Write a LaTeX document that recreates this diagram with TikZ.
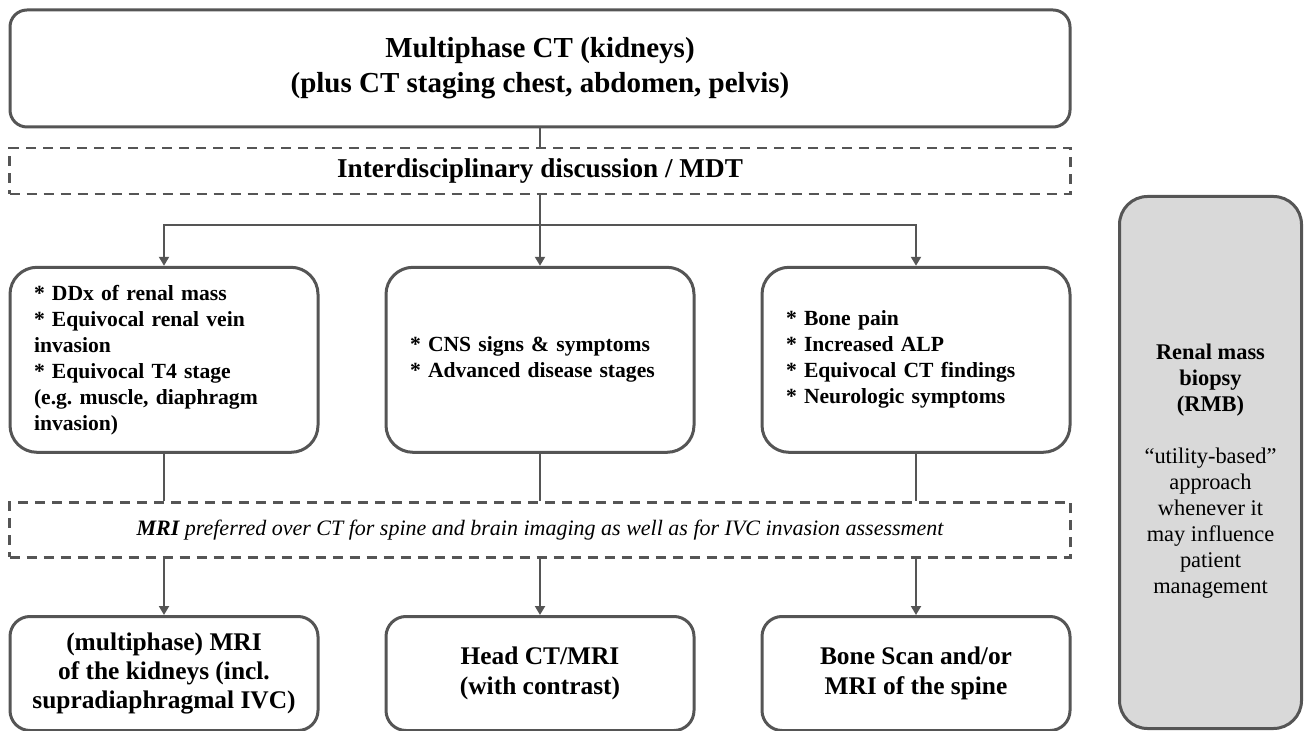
\documentclass[tikz,border=0pt]{standalone}
\usepackage{fontspec}
\setmainfont{Liberation Serif}
\usetikzlibrary{arrows.meta,positioning,calc}
\definecolor{edgegray}{HTML}{555555}
\definecolor{rmbgray}{HTML}{D9D9D9}

\begin{document}
\begin{tikzpicture}[
  node distance=28.15pt and 32.5pt,
  bigbox/.style={draw=edgegray, line width=1.5pt, rounded corners=8.5pt, align=center, minimum width=530pt, minimum height=58.5pt, font=\fontsize{14.5}{17.5}\selectfont\bfseries},
  note/.style={draw=edgegray, line width=1.3pt, dash pattern=on 5pt off 3.5pt, align=center, minimum width=530.5pt},
  crit/.style={draw=edgegray, line width=1.5pt, rounded corners=13.5pt, align=left, text width=130pt, inner xsep=12pt, minimum height=92.5pt, font=\fontsize{10.8}{13}\selectfont\bfseries},
  exam/.style={draw=edgegray, line width=1.5pt, rounded corners=10pt, align=center, minimum width=154pt, minimum height=57pt, font=\fontsize{12.7}{14.7}\selectfont\bfseries},
  biopsy/.style={draw=edgegray, fill=rmbgray, line width=1.5pt, rounded corners=14pt, align=center, minimum width=91pt, minimum height=266pt, font=\fontsize{11.2}{13}\selectfont},
  link/.style={draw=edgegray, line width=1pt},
  arr/.style={link, -{Triangle[length=4.5pt, width=5pt]}}
]
\useasboundingbox (0,0) rectangle (652pt,-365.5pt);
\node[bigbox] (ct) at (270pt,-34.25pt) {Multiphase CT (kidneys)\\(plus CT staging chest, abdomen, pelvis)};
\node[note, below=9.2pt of ct, minimum height=23pt, font=\fontsize{13.6}{16}\selectfont\bfseries] (mdt) {Interdisciplinary discussion / MDT};
\node[crit, below=35.15pt of mdt] (cns) {* CNS signs \& symptoms\\{}* Advanced disease stages};
\node[crit, left=of cns] (ddx) {* DDx of renal mass\\{}* Equivocal renal vein\\invasion\\{}* Equivocal T4 stage\\(e.g.\ muscle, diaphragm\\invasion)};
\node[crit, right=of cns] (bone) {* Bone pain\\{}* Increased ALP\\{}* Equivocal CT findings\\{}* Neurologic symptoms};
\node[note, below=23.65pt of cns, minimum height=27.5pt, font=\fontsize{11}{13}\selectfont\itshape] (mri) {\textbf{MRI} preferred over CT for spine and brain imaging as well as for IVC invasion assessment};
\node[exam, below=of mri] (head) {Head CT/MRI\\(with contrast)};
\node[exam, left=of head] (kid) {(multiphase) MRI\\of the kidneys (incl.\\supradiaphragmal IVC)};
\node[exam, right=of head] (spine) {Bone Scan and/or\\MRI of the spine};
\node[biopsy, anchor=south west] (rmb) at (559pt,-365pt) {\mbox{}\\[3pt]\textbf{Renal mass}\\\textbf{biopsy}\\\textbf{(RMB)}\\[13pt]“utility-based”\\approach\\whenever it\\may influence\\patient\\management};
\coordinate (split) at ($(mdt.south)!0.42!(cns.north)$);
\draw[link] (ct) -- (mdt);
\draw[link] (mdt) -- (split);
\draw[arr] (split) -| (ddx);
\draw[arr] (split) -- (cns);
\draw[arr] (split) -| (bone);
\draw[link] (ddx) -- (ddx |- mri.north);
\draw[link] (cns) -- (mri);
\draw[link] (bone) -- (bone |- mri.north);
\draw[arr] (kid |- mri.south) -- (kid);
\draw[arr] (mri) -- (head);
\draw[arr] (spine |- mri.south) -- (spine);
\end{tikzpicture}
\end{document}
